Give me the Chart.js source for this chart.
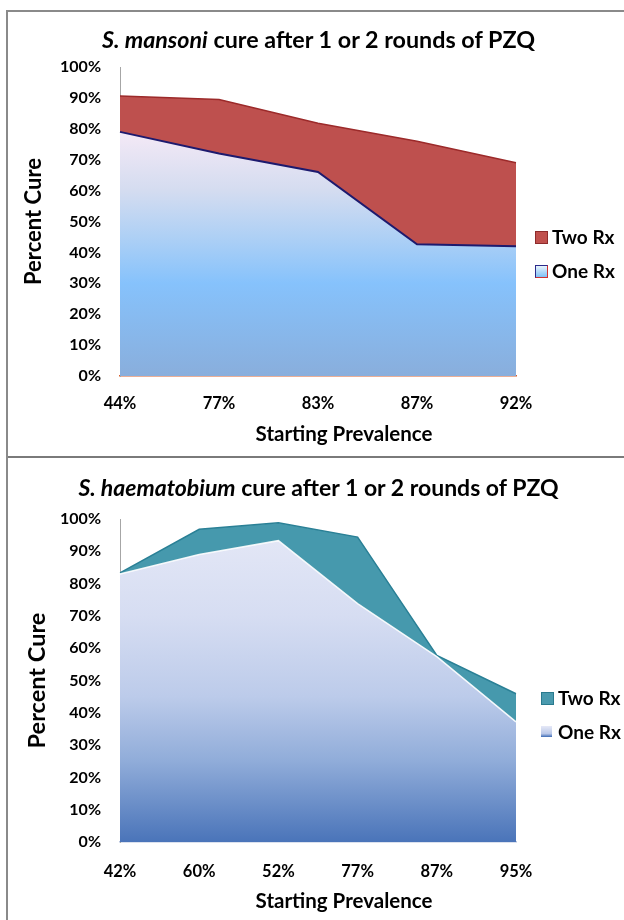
<!DOCTYPE html>
<html>
<head>
<meta charset="utf-8">
<script src="https://cdn.jsdelivr.net/npm/chart.js@4.4.1/dist/chart.umd.min.js"></script>
<style>
  html, body { margin: 0; padding: 0; background: #fff; }
  body { width: 624px; height: 920px; position: relative; overflow: hidden; font-family: Lato, "Open Sans", sans-serif; }
  .panel { position: absolute; left: 0; width: 624px; }
  .panel canvas { position: absolute; left: 0; top: 0; }
  .title { position: absolute; left: 0; width: 637px; text-align: center; font-weight: bold; color: #000; white-space: nowrap; }
  .title i { font-style: italic; }
  .xtitle { position: absolute; left: 144px; width: 400px; text-align: center; font-weight: bold; font-size: 20.5px; color: #000; white-space: nowrap; }
  .legend { position: absolute; font-weight: bold; font-size: 19px; color: #000; }
  .legend div { position: relative; height: 34px; line-height: 24px; padding-left: 17px; white-space: nowrap; }
  .legend span.sw { position: absolute; left: 0; top: 6px; width: 11px; height: 11px; }
  .border-top { position: absolute; left: 6px; top: 10px; width: 618px; height: 0; border-top: 2px solid #8a8a8a; }
  .border-mid { position: absolute; left: 6px; top: 456px; width: 618px; height: 0; border-top: 2px solid #7a7a7a; }
  .border-left { position: absolute; left: 6px; top: 10px; width: 0; height: 910px; border-left: 2px solid #8a8a8a; }
</style>
</head>
<body>
<div class="panel" style="top:0;height:456px;">
  <canvas id="c1" width="624" height="456"></canvas>
  <div class="title" style="top:25px;font-size:23.3px;"><i>S. mansoni</i> cure after 1 or 2 rounds of PZQ</div>
  <div class="xtitle" style="top:421px;">Starting Prevalence</div>
  <div class="legend" style="left:535px;top:225px;">
    <div><span class="sw" style="background:#c0504d;border:1px solid #8e2b2b;"></span>Two Rx</div>
    <div><span class="sw" style="background:linear-gradient(#e8f4fd,#7fc0f5);border:1px solid;border-color:#2b2a8a #d03030 #d03030 #2b2a8a;"></span>One Rx</div>
  </div>
</div>
<div class="panel" style="top:456px;height:464px;">
  <canvas id="c2" width="624" height="464"></canvas>
  <div class="title" style="top:17px;font-size:23px;"><i>S. haematobium</i> cure after 1 or 2 rounds of PZQ</div>
  <div class="xtitle" style="top:432px;">Starting Prevalence</div>
  <div class="legend" style="left:541px;top:230px;">
    <div><span class="sw" style="background:#4a9aae;border:1px solid #2a7a8e;"></span>Two Rx</div>
    <div><span class="sw" style="background:linear-gradient(#e6e9f7,#b9c7e8 70%,#3d6bb5);"></span>One Rx</div>
  </div>
</div>
<div class="border-top"></div>
<div class="border-mid"></div>
<div class="border-left"></div>

<script>
// ---- data ----
const mansoniLabels = ['44%', '77%', '83%', '87%', '92%'];
const mansoniOneRx = [79, 72, 66, 42.6, 42];
const mansoniTwoRx = [90.6, 89.5, 81.8, 76, 69];

const haemLabels = ['42%', '60%', '52%', '77%', '87%', '95%'];
const haemOneRx = [83, 89, 93.3, 73.8, 57.4, 37.2];
const haemTwoRx = [83.3, 96.8, 98.8, 94.4, 57.8, 45.9];

const yTicks = [0, 10, 20, 30, 40, 50, 60, 70, 80, 90, 100];

Chart.defaults.font.family = 'Lato, "Open Sans", sans-serif';
Chart.defaults.color = '#000';

function gradient(stops) {
  return function (ctx) {
    const ca = ctx.chart.chartArea;
    if (!ca) return stops[0][1];
    const g = ctx.chart.ctx.createLinearGradient(0, ca.top, 0, ca.bottom);
    stops.forEach(s => g.addColorStop(s[0], s[1]));
    return g;
  };
}

function makeOptions(cfg) {
  return {
    responsive: false,
    animation: false,
    layout: { padding: { top: cfg.padTop, right: 108, left: 0, bottom: 0 } },
    plugins: { legend: { display: false }, tooltip: { enabled: false } },
    elements: { point: { radius: 0 }, line: { tension: 0 } },
    scales: {
      x: {
        grid: { display: false, drawTicks: false },
        border: { display: true, color: cfg.xAxisColor, width: 1.5 },
        ticks: { padding: cfg.xTickPad, font: { size: 16.5, weight: 'bold' }, color: '#000', maxRotation: 0 },
        title: { display: false },
        afterFit: s => { s.height = cfg.xHeight; }
      },
      y: {
        min: 0, max: 100,
        afterBuildTicks: s => { s.ticks = yTicks.map(v => ({ value: v })); },
        grid: { display: false, drawTicks: false },
        border: { display: true, color: '#a6a6a6', width: 1 },
        ticks: { padding: 19, font: { size: 16, weight: 'bold' }, color: '#000', callback: v => v + '%' },
        title: { display: true, text: 'Percent Cure', font: { size: cfg.yTitleSize, weight: 'bold' }, color: '#000', padding: { top: cfg.yTitlePad, bottom: 0 } },
        afterFit: s => { s.width = 120; }
      }
    }
  };
}

new Chart(document.getElementById('c1'), {
  type: 'line',
  data: {
    labels: mansoniLabels,
    datasets: [
      {
        label: 'Two Rx', data: mansoniTwoRx, order: 2, fill: 'origin',
        backgroundColor: '#be504e', borderColor: '#9c2a2a', borderWidth: 1.5
      },
      {
        label: 'One Rx', data: mansoniOneRx, order: 1, fill: 'origin',
        backgroundColor: gradient([[0, '#f8eef9'], [0.21, '#f4e9f6'], [0.4, '#d4dcf0'], [0.55, '#aed0f5'], [0.7, '#86c2fc'], [1, '#89aedc']]),
        borderColor: '#1d1a6e', borderWidth: 2
      }
    ]
  },
  options: makeOptions({ padTop: 67, xAxisColor: '#d8602e', xTickPad: 18, xHeight: 80, yTitleSize: 22, yTitlePad: 21 })
});

new Chart(document.getElementById('c2'), {
  type: 'line',
  data: {
    labels: haemLabels,
    datasets: [
      {
        label: 'Two Rx', data: haemTwoRx, order: 2, fill: 'origin',
        backgroundColor: '#4699ad', borderColor: '#2a8096', borderWidth: 1.5
      },
      {
        label: 'One Rx', data: haemOneRx, order: 1, fill: 'origin',
        backgroundColor: gradient([[0, '#e6e9f7'], [0.3, '#d6ddf2'], [0.55, '#bccbea'], [0.75, '#90acd9'], [1, '#4a74b9']]),
        borderColor: 'rgba(255,255,255,0.9)', borderWidth: 1.5
      }
    ]
  },
  options: makeOptions({ padTop: 63, xAxisColor: '#b7c4de', xTickPad: 20, xHeight: 78, yTitleSize: 23.5, yTitlePad: 23 })
});
</script>
</body>
</html>
